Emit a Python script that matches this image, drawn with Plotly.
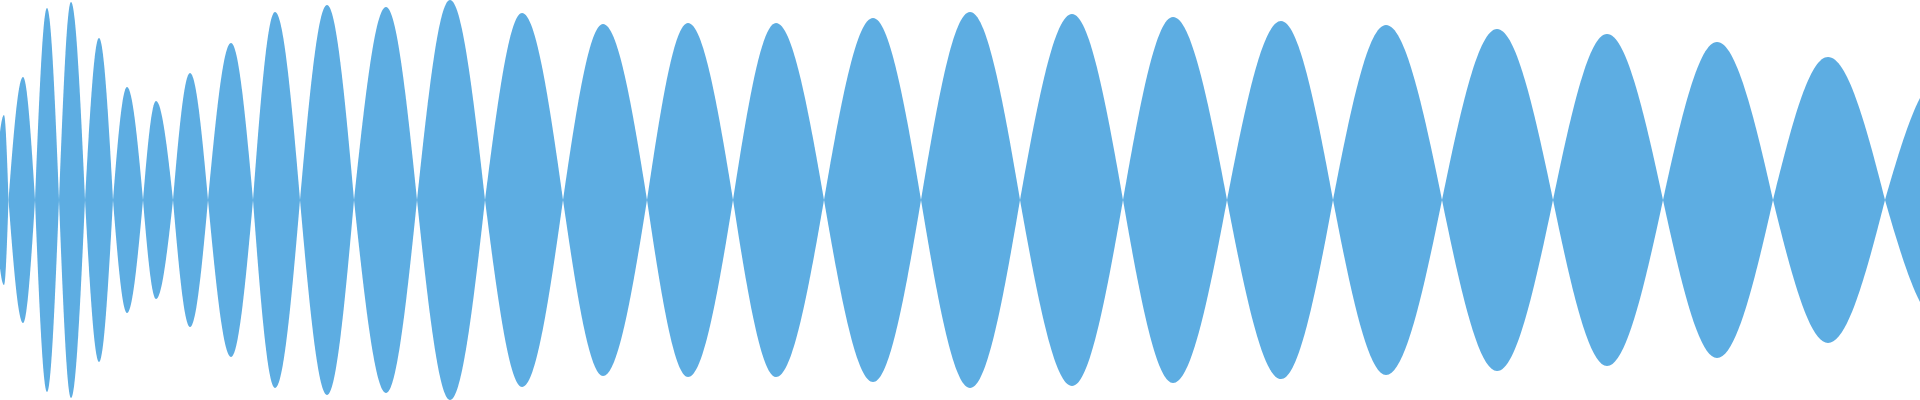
import plotly.graph_objects as go

# Waveform: zero-crossing positions (px along the
# time axis) and, for each lobe between two crossings, its peak position
# and peak amplitude (fraction of full scale).
node_x = [-6, 8.5, 35, 59, 85, 113, 143, 173, 208, 253, 300, 354, 417, 485,
          563, 647, 733, 824, 921, 1020, 1123, 1227, 1333, 1442, 1553, 1663,
          1773, 1885, 1997]
peak_x = [4, 23, 47, 71, 99, 127, 156, 190, 231, 275, 327, 386, 450, 522,
          603, 688, 776, 873, 970, 1072, 1173, 1281, 1386, 1497, 1607, 1717,
          1828, 1940]
peak_amp = [0.425, 0.615, 0.96, 0.99, 0.81, 0.565, 0.495, 0.635, 0.785, 0.94,
            0.975, 0.965, 1.0, 0.935, 0.88, 0.885, 0.885, 0.91, 0.94, 0.93,
            0.915, 0.895, 0.875, 0.855, 0.83, 0.79, 0.715, 0.61]

COLOR = "#5DADE2"
K_NODE = 0.36   # bezier handle length at a zero crossing (fraction of half-lobe)
K_PEAK = 0.33   # bezier handle length at a peak (fraction of half-lobe)
SLOPE = 1.5708  # initial rise of the handle at a crossing


def f(v):
    return f"{v:.3f}"


def lobe_path(n0, p, n1, a):
    wl, wr = p - n0, n1 - p
    A, B = a, -a
    return (f"M{f(n0)},0 "
            f"C{f(n0 + K_NODE * wl)},{f(K_NODE * SLOPE * A)} {f(p - K_PEAK * wl)},{f(A)} {f(p)},{f(A)} "
            f"C{f(p + K_PEAK * wr)},{f(A)} {f(n1 - K_NODE * wr)},{f(K_NODE * SLOPE * A)} {f(n1)},0 "
            f"C{f(n1 - K_NODE * wr)},{f(K_NODE * SLOPE * B)} {f(p + K_PEAK * wr)},{f(B)} {f(p)},{f(B)} "
            f"C{f(p - K_PEAK * wl)},{f(B)} {f(n0 + K_NODE * wl)},{f(K_NODE * SLOPE * B)} {f(n0)},0 Z")


fig = go.Figure()
# invisible anchor trace so the axes exist
fig.add_trace(go.Scatter(x=peak_x, y=peak_amp, mode="markers",
                         marker=dict(opacity=0), hoverinfo="skip",
                         showlegend=False))

shapes = [dict(type="path", xref="x", yref="y",
               path=lobe_path(node_x[i], peak_x[i], node_x[i + 1], peak_amp[i]),
               fillcolor=COLOR, line=dict(width=0), layer="above")
          for i in range(len(peak_x))]

fig.update_layout(
    width=1920, height=400,
    margin=dict(l=0, r=0, t=0, b=0, pad=0),
    paper_bgcolor="white", plot_bgcolor="white",
    xaxis=dict(range=[0, 1920], visible=False, fixedrange=True),
    yaxis=dict(range=[-1, 1], visible=False, fixedrange=True),
    showlegend=False,
    shapes=shapes,
)

fig.write_html("out.html", post_script="document.body.style.margin='0';",
               config={"displayModeBar": False})
